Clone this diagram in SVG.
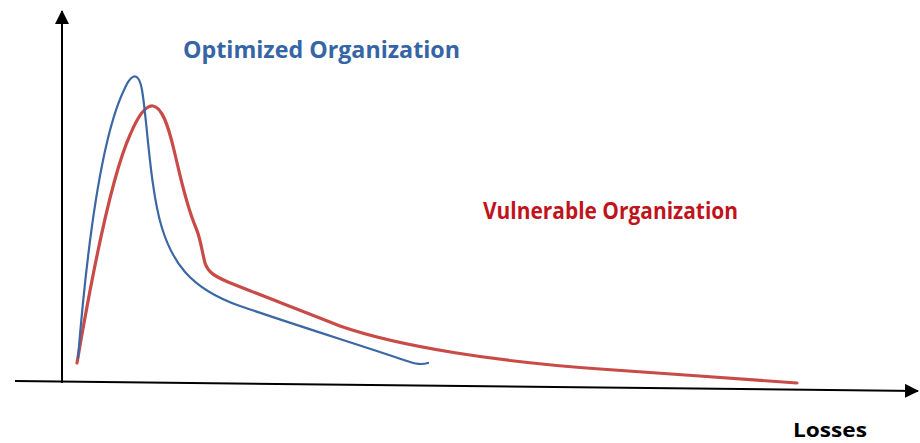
<svg xmlns="http://www.w3.org/2000/svg" width="920" height="443" viewBox="0 0 920 443">
  <style>
    .axis { stroke: #000; stroke-width: 2; fill: none; }
    .lbl { font-family: "Open Sans", "Noto Sans", "Liberation Sans", sans-serif; font-weight: 700; }
    .curve { fill: none; stroke-linecap: round; stroke-linejoin: round; }
  </style>
  <defs>
    <marker id="arrow" viewBox="0 0 14 14" refX="13" refY="7" markerWidth="14" markerHeight="14" markerUnits="userSpaceOnUse" orient="auto">
      <path d="M0,0 L14,7 L0,14 Z" fill="#000"/>
    </marker>
  </defs>
  <rect width="920" height="443" fill="#fff"/>
  <g id="axes">
    <line class="axis" x1="62" y1="383" x2="62" y2="11" marker-end="url(#arrow)"/>
    <line class="axis" x1="15" y1="381" x2="918" y2="391" marker-end="url(#arrow)"/>
  </g>
  <g id="vulnerable-curve">
    <path class="curve" stroke="#C84B48" stroke-width="3.2" d="M77,363 C92,275 112,175 130,135 C138,116 146,105 153,106 C162,107 168,125 174,150 C180,175 186,205 196,228 C201,240 202,252 205,263 C208,272 214,276 228,282 C260,295 300,310 340,326 C400,347 500,362 600,369 C660,373 740,379 797,383"/>
  </g>
  <g id="optimized-curve">
    <path class="curve" stroke="#3C67A5" stroke-width="2.2" d="M78,358 C86,260 100,140 124,90 C130,76 138,68 142,90 C147,118 150,190 162,228 C172,260 188,288 240,306 C295,325 350,342 395,357 C410,362 418,366 428,363"/>
  </g>
  <g id="labels">
    <text class="lbl" x="183" y="58" font-size="24" fill="#3565A5" textLength="277" lengthAdjust="spacingAndGlyphs">Optimized Organization</text>
    <text class="lbl" x="483" y="219" font-size="23" fill="#C0141C" textLength="255" lengthAdjust="spacingAndGlyphs">Vulnerable Organization</text>
    <text class="lbl" x="793" y="437" font-size="20" fill="#000" textLength="74" lengthAdjust="spacingAndGlyphs">Losses</text>
  </g>
</svg>
